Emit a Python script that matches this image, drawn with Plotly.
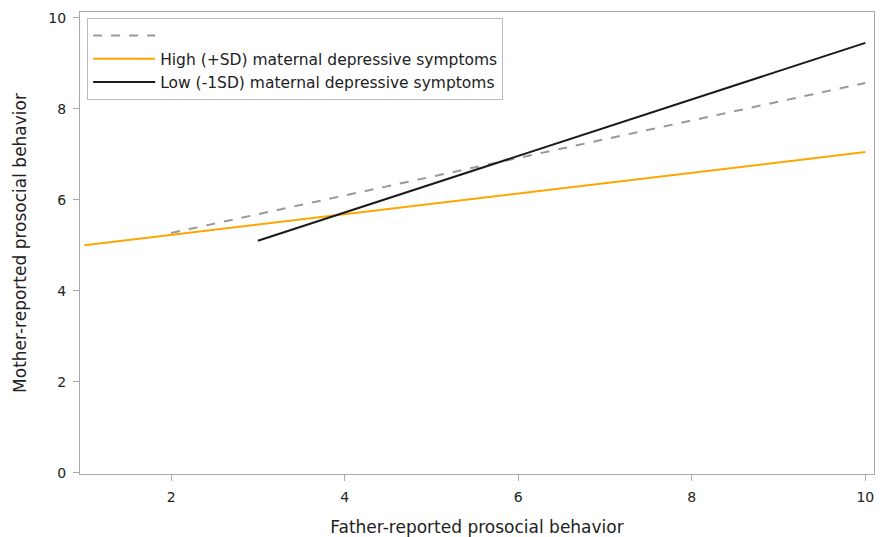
import plotly.graph_objects as go

# Data
overall_x = [2, 10]
overall_y = [5.27, 8.57]
high_x = [1, 10]
high_y = [5.0, 7.05]
low_x = [3, 10]
low_y = [5.1, 9.45]

x_ticks = [2, 4, 6, 8, 10]
y_ticks = [0, 2, 4, 6, 8, 10]

fig = go.Figure()
fig.add_trace(go.Scatter(x=overall_x, y=overall_y, mode="lines", name=" ",
                         line=dict(color="#999999", width=2, dash="dash")))
fig.add_trace(go.Scatter(x=high_x, y=high_y, mode="lines",
                         name="High (+SD) maternal depressive symptoms",
                         line=dict(color="#FFA500", width=2)))
fig.add_trace(go.Scatter(x=low_x, y=low_y, mode="lines",
                         name="Low (-1SD) maternal depressive symptoms",
                         line=dict(color="#1a1a1a", width=2)))

font_family = "DejaVu Sans, Arial, sans-serif"
# the page body has an 8px margin, so the figure is sized and placed to compensate
fig.update_layout(
    width=879, height=529,
    margin=dict(l=72, r=13, t=4, b=63),
    plot_bgcolor="white", paper_bgcolor="white",
    font=dict(family=font_family, size=14, color="#222222"),
    showlegend=True,
    legend=dict(x=0.009, y=0.987, xanchor="left", yanchor="top",
                bordercolor="#bbbbbb", borderwidth=1, bgcolor="white",
                font=dict(size=15.5), tracegroupgap=0, itemwidth=62),
    xaxis=dict(range=[0.95, 10.1], tickvals=x_ticks, showgrid=False, zeroline=False,
               showline=True, linecolor="#aaaaaa", linewidth=1, mirror=True,
               ticks="outside", ticklen=6, tickcolor="#aaaaaa", automargin=False,
               ticklabelstandoff=4,
               title=dict(text="Father-reported prosocial behavior", font=dict(size=17), standoff=17)),
    yaxis=dict(range=[-0.03, 10.13], tickvals=y_ticks, showgrid=False, zeroline=False,
               showline=True, linecolor="#aaaaaa", linewidth=1, mirror=True,
               ticks="outside", ticklen=6, tickcolor="#aaaaaa", automargin=False,
               ticklabelstandoff=4,
               title=dict(text="Mother-reported prosocial behavior", font=dict(size=17), standoff=17)),
)

fig.write_html("out.html")
